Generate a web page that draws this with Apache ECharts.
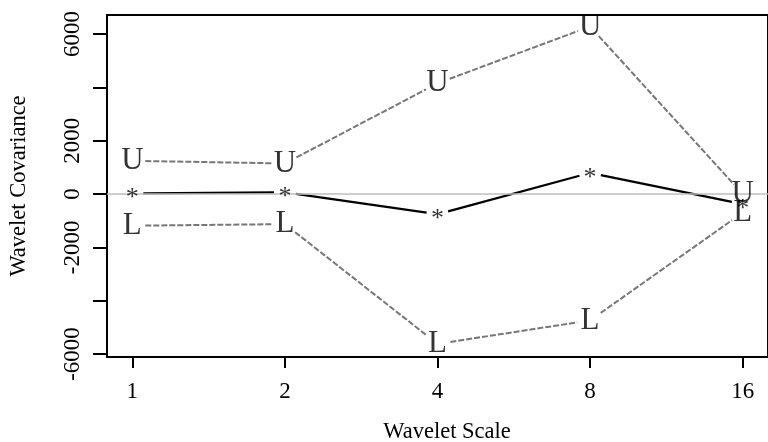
<!DOCTYPE html>
<html>
<head>
<meta charset="utf-8">
<script src="https://cdn.jsdelivr.net/npm/echarts@6/dist/echarts.min.js"></script>
<style>html,body{margin:0;padding:0;background:#fff;}#c{width:768px;height:442px;}</style>
</head>
<body>
<div id="c"></div>
<script>
// ---- data ----
var scales = [1, 2, 4, 8, 16];
var upper = [1245, 1144, 4150, 6280, 0];
var estimate = [22, 60, -760, 790, -380];
var lower = [-1190, -1130, -5620, -4740, -700];
var xTickValues = [0, 1, 2, 3, 4];            // log2 of scales
var yTickValues = [-6000, -4000, -2000, 0, 2000, 4000, 6000];
var yLabelValues = [-6000, -2000, 0, 2000, 6000];

var FONT = 'Liberation Serif';
var chart = echarts.init(document.getElementById('c'), null, {renderer: 'canvas'});

function pts(vals) {
  return scales.map(function (s, i) { return [Math.log2(s), vals[i]]; });
}
function segs(vals, gap) {
  var p = pts(vals), out = [];
  for (var i = 0; i < p.length - 1; i++) out.push([p[i][0], p[i][1], p[i + 1][0], p[i + 1][1], gap]);
  return out;
}
function segRender(color, width, dash) {
  return function (params, api) {
    var a = api.coord([api.value(0), api.value(1)]);
    var b = api.coord([api.value(2), api.value(3)]);
    var g = api.value(4);
    var dx = b[0] - a[0], dy = b[1] - a[1];
    var L = Math.sqrt(dx * dx + dy * dy);
    if (L <= 2 * g) return null;
    var ux = dx / L, uy = dy / L;
    return {
      type: 'line',
      shape: {x1: a[0] + ux * g, y1: a[1] + uy * g, x2: b[0] - ux * g, y2: b[1] - uy * g},
      style: {stroke: color, lineWidth: width, lineDash: dash, fill: null}
    };
  };
}
function textSeries(vals, ch, size, offset) {
  return {
    type: 'scatter',
    data: pts(vals),
    symbolSize: 1,
    itemStyle: {color: 'rgba(0,0,0,0)'},
    silent: true,
    z: 5,
    label: {
      show: true, position: 'inside', formatter: ch,
      fontFamily: FONT, fontSize: size, color: '#000', offset: offset || [0, 0]
    }
  };
}

var option = {
  backgroundColor: '#fff',
  animation: false,
  title: {
    text: 'Wavelet Scale', left: 442, top: 416, textAlign: 'center',
    textStyle: {fontFamily: FONT, fontSize: 22.5, fontWeight: 'normal', color: '#000'}
  },
  grid: {
    left: 106, top: 15, width: 672, height: 342,
    show: true, borderColor: '#000', borderWidth: 2, backgroundColor: 'transparent'
  },
  xAxis: {
    type: 'value', min: -0.166, max: 4.166,
    axisLine: {show: false, onZero: false},
    splitLine: {show: false},
    axisTick: {show: true, inside: false, length: 11, lineStyle: {color: '#000', width: 2}, customValues: xTickValues},
    axisLabel: {
      customValues: xTickValues, margin: 23,
      fontFamily: FONT, fontSize: 23, color: '#000',
      formatter: function (v) { return String(Math.round(Math.pow(2, v))); }
    }
  },
  yAxis: {
    type: 'value', min: -6112, max: 6712,
    name: 'Wavelet Covariance', nameLocation: 'middle', nameRotate: 90, nameGap: 76,
    nameTextStyle: {fontFamily: FONT, fontSize: 22.5, color: '#000'},
    axisLine: {show: false, onZero: false},
    splitLine: {show: false},
    axisTick: {show: true, inside: false, length: 14, lineStyle: {color: '#000', width: 2}, customValues: yTickValues},
    axisLabel: {
      customValues: yLabelValues, rotate: 90, margin: 23,
      fontFamily: FONT, fontSize: 23, color: '#000',
      formatter: function (v) { return String(v); }
    }
  },
  series: [
    {
      type: 'line', data: [], silent: true,
      markLine: {
        silent: true, symbol: 'none', label: {show: false},
        lineStyle: {color: '#bebebe', width: 1.5, type: 'solid'},
        data: [{yAxis: 0}]
      }
    },
    {type: 'custom', data: segs(upper, 13), renderItem: segRender('#777777', 2, [6, 2]), silent: true, z: 3},
    {type: 'custom', data: segs(lower, 13), renderItem: segRender('#777777', 2, [6, 2]), silent: true, z: 3},
    {type: 'custom', data: segs(estimate, 11), renderItem: segRender('#000000', 2.2, null), silent: true, z: 4},
    textSeries(upper, 'U', 31),
    textSeries(lower, 'L', 31),
    textSeries(estimate, '*', 26, [0, 5])
  ]
};
chart.setOption(option);
</script>
</body>
</html>
